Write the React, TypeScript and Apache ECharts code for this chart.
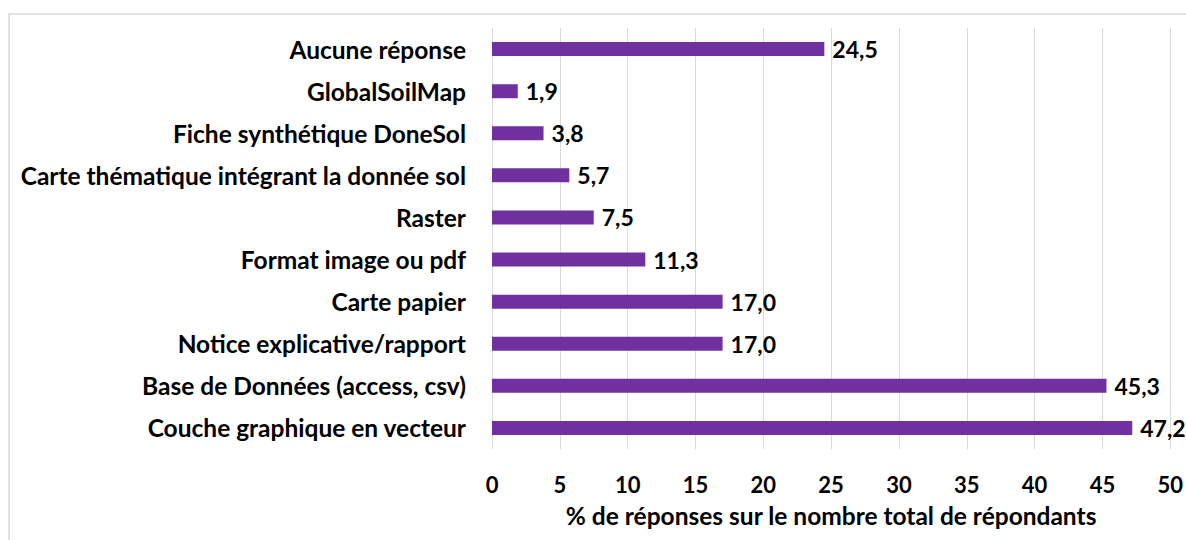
import React, { useEffect, useRef } from "react";
import * as echarts from "echarts";

const categories = [
  "Aucune réponse",
  "GlobalSoilMap",
  "Fiche synthétique DoneSol",
  "Carte thématique intégrant la donnée sol",
  "Raster",
  "Format image ou pdf",
  "Carte papier",
  "Notice explicative/rapport",
  "Base de Données (access, csv)",
  "Couche graphique en vecteur",
];
const values = [24.5, 1.9, 3.8, 5.7, 7.5, 11.3, 17.0, 17.0, 45.3, 47.2];
const axisTitle = "% de réponses sur le nombre total de répondants";

const FONT = "Lato, 'Noto Sans', sans-serif";

export default function App() {
  const ref = useRef<HTMLDivElement>(null);
  useEffect(() => {
    if (!ref.current) return;
    const chart = echarts.init(ref.current, undefined, { renderer: "svg" });
    chart.setOption({
      animation: false,
      backgroundColor: "#ffffff",
      textStyle: { fontFamily: FONT },
      graphic: [
        {
          type: "rect",
          shape: { x: 9, y: 14, width: 1300, height: 700 },
          style: { fill: "none", stroke: "#d9d9d9", lineWidth: 1.5 },
          silent: true,
        },
      ],
      grid: { left: 492, right: 15, top: 28, bottom: 91, containLabel: false },
      xAxis: {
        type: "value",
        min: 0,
        max: 50,
        interval: 5,
        axisLine: { show: false },
        axisTick: { show: false },
        splitLine: { show: true, lineStyle: { color: "#d9d9d9", width: 1 } },
        axisLabel: {
          color: "#000",
          fontFamily: FONT,
          fontWeight: "bold",
          fontSize: 22,
          margin: 24,
        },
        name: axisTitle,
        nameLocation: "middle",
        nameGap: 54,
        nameTextStyle: {
          color: "#000",
          fontFamily: FONT,
          fontWeight: "bold",
          fontSize: 24.5,
        },
      },
      yAxis: {
        type: "category",
        data: categories,
        inverse: true,
        axisLine: { show: false },
        axisTick: { show: false },
        axisLabel: {
          color: "#000",
          fontFamily: FONT,
          fontWeight: "bold",
          fontSize: 24.5,
          margin: 26,
        },
      },
      series: [
        {
          type: "bar",
          data: values,
          barWidth: 14,
          itemStyle: { color: "#7030A0" },
          label: {
            show: true,
            position: "right",
            distance: 8,
            color: "#000",
            fontFamily: FONT,
            fontWeight: "bold",
            fontSize: 23,
            formatter: (p: any) => Number(p.value).toFixed(1).replace(".", ","),
          },
        },
      ],
    });
    return () => chart.dispose();
  }, []);
  return (
    <div
      ref={ref}
      style={{ position: "fixed", left: 0, top: 0, width: 1186, height: 540 }}
    />
  );
}
